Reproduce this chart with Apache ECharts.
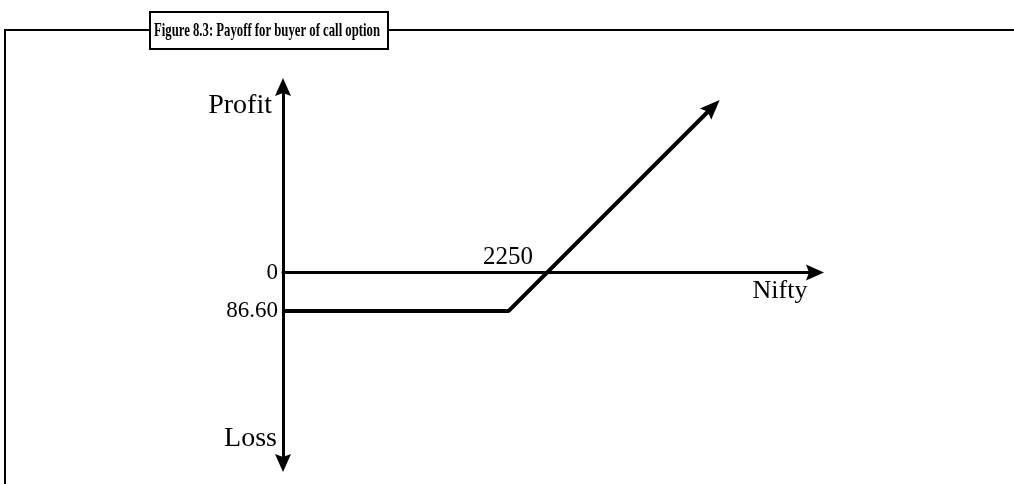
<!DOCTYPE html>
<html>
<head>
<meta charset="utf-8">
<script src="https://cdn.jsdelivr.net/npm/echarts@6/dist/echarts.min.js"></script>
<style>
  html, body { margin: 0; padding: 0; background: #fff; }
  #main { width: 1014px; height: 484px; }
</style>
</head>
<body>
<div id="main"></div>
<script>
// payoff of a call buyer: flat loss of the premium, then 1:1 above the strike
var niftyLevels = [1657, 2163.4, 2622];
var payoffValues = [-86.6, -86.6, 372];
var breakeven = [2250];
var premiumTicks = [0, -86.6];

var serif = 'Liberation Serif';
var arrowHead = 'path://M8,0 L16,18 L8,15 L0,18 Z';

var myChart = echarts.init(document.getElementById('main'));

var lineData = niftyLevels.map(function (x, i) {
    var item = { value: [x, payoffValues[i]] };
    if (i === niftyLevels.length - 1) {
        item.symbol = arrowHead;
        item.symbolSize = [16, 20];
        item.symbolRotate = -45;
    }
    return item;
});

var option = {
    animation: false,
    backgroundColor: '#fff',
    grid: { left: 283, right: 199, top: 87, bottom: 21 },
    graphic: [
        {
            type: 'polyline',
            z: 1,
            shape: { points: [[5, 484], [5, 30], [1014, 30]] },
            style: { stroke: '#000', lineWidth: 2, fill: null }
        },
        {
            type: 'rect',
            z: 2,
            shape: { x: 150, y: 12, width: 238, height: 37 },
            style: { stroke: '#000', lineWidth: 2, fill: '#fff' }
        },
        {
            type: 'text',
            z: 3,
            x: 267,
            y: 31,
            scaleX: 0.67,
            style: {
                text: 'Figure 8.3: Payoff for buyer of call option',
                font: 'bold 19px "Liberation Serif"',
                fill: '#000',
                align: 'center',
                verticalAlign: 'middle'
            }
        }
    ],
    xAxis: {
        type: 'value',
        min: 1657,
        max: 2852,
        name: 'Nifty',
        nameLocation: 'end',
        nameGap: -35,
        nameTextStyle: {
            fontFamily: serif, fontSize: 26, color: '#000',
            align: 'center', verticalAlign: 'top', padding: [6, 0, 0, 0]
        },
        axisLine: {
            onZero: true,
            symbol: ['none', arrowHead],
            symbolSize: [16, 20],
            lineStyle: { color: '#000', width: 3 }
        },
        axisTick: { show: false },
        splitLine: { show: false },
        axisLabel: { show: false }
    },
    yAxis: [
        {
            type: 'value',
            min: -428,
            max: 417,
            name: 'Profit',
            nameLocation: 'end',
            nameGap: -33,
            nameTextStyle: {
                fontFamily: serif, fontSize: 28, color: '#000',
                align: 'right', padding: [0, 11, 0, 0]
            },
            axisLine: {
                show: true,
                onZero: false,
                symbol: [arrowHead, arrowHead],
                symbolSize: [17, 18],
                lineStyle: { color: '#000', width: 3 }
            },
            axisTick: { show: false },
            splitLine: { show: false },
            axisLabel: {
                customValues: premiumTicks,
                margin: 5,
                fontFamily: serif, fontSize: 23, color: '#000',
                formatter: function (v) {
                    return v === 0 ? '0' : Math.abs(v).toFixed(2);
                }
            }
        },
        {
            type: 'value',
            min: -428,
            max: 417,
            position: 'left',
            name: 'Loss',
            nameLocation: 'start',
            nameGap: -38,
            nameTextStyle: {
                fontFamily: serif, fontSize: 28, color: '#000',
                align: 'right', padding: [0, 6, 0, 0]
            },
            axisLine: { show: false },
            axisTick: { show: false },
            splitLine: { show: false },
            axisLabel: { show: false }
        }
    ],
    series: [{
        type: 'line',
        yAxisIndex: 0,
        symbol: 'none',
        clip: false,
        z: 5,
        lineStyle: { color: '#000', width: 4 },
        itemStyle: { color: '#000' },
        data: lineData,
        markPoint: {
            symbol: 'circle',
            symbolSize: 0,
            silent: true,
            label: {
                show: true,
                position: [-14, -15],
                align: 'right',
                verticalAlign: 'middle',
                fontFamily: serif, fontSize: 25, color: '#000',
                formatter: function (p) { return String(p.data.coord[0]); }
            },
            data: breakeven.map(function (x) { return { coord: [x, 0] }; })
        }
    }]
};

myChart.setOption(option);
</script>
</body>
</html>
